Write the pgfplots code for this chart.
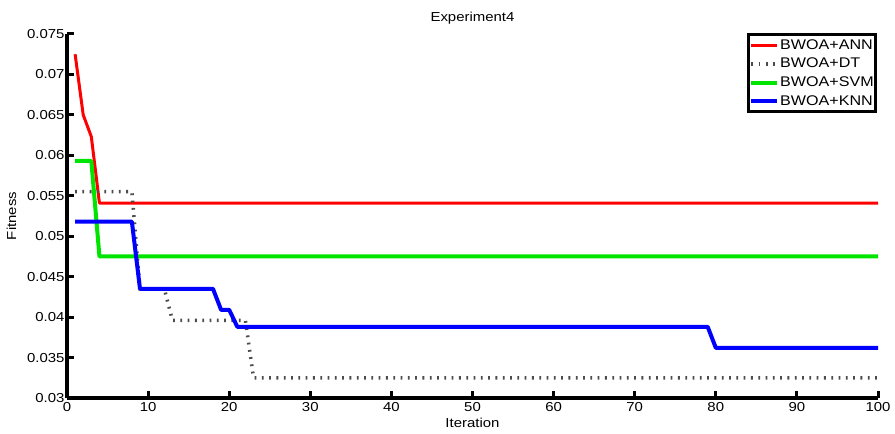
\documentclass[border=0pt]{standalone}
\usepackage{fontspec}
\setmainfont{Liberation Sans}[FakeStretch=1.15]
\usepackage{pgfplots}
\pgfplotsset{compat=1.18}
\begin{document}
\begin{tikzpicture}[font=\fontsize{13bp}{15bp}\selectfont]
\begin{axis}[
  at={(0,0)}, anchor=south west,
  scale only axis, width=811bp, height=364bp,
  xmin=0, xmax=100, ymin=0.03, ymax=0.075,
  axis x line*=bottom, axis y line*=left,
  axis line style={line width=3.5bp, black, -},
  xtick={0,10,...,100},
  ytick={0.03,0.035,...,0.0751},
  tick align=inside,
  major tick length=7bp,
  tick style={line width=3bp, black},
  /pgf/number format/assume math mode=true,
  yticklabel style={/pgf/number format/fixed, /pgf/number format/precision=3, xshift=1bp},
  scaled y ticks=false,
  xticklabel style={yshift=-1bp},
  title={Experiment4},
  title style={yshift=0bp},
  xlabel={Iteration},
  ylabel={Fitness},
  xlabel style={yshift=0bp},
  ylabel style={yshift=4bp},
  legend style={at={(0.999,1.003)}, anchor=north east, draw=black, line width=3bp,
    font=\fontsize{14bp}{15bp}\selectfont, inner xsep=1bp, inner ysep=3bp, row sep=3.5bp,
    legend cell align=left, nodes={inner xsep=1bp}},
  legend image code/.code={\draw[#1] (0bp,0bp) -- (26bp,0bp);},
]
\addplot[red, line width=3bp, line join=round] coordinates {
(1,0.0725) (2,0.065) (3,0.0623) (4,0.0541) (100,0.0541)};
\addlegendentry{BWOA+ANN}
\addplot[black!70, line width=3.5bp, dash pattern=on 1.8bp off 5.5bp] coordinates {
(1,0.0555) (8,0.0555) (9,0.0435) (12,0.0435) (13,0.0396) (22,0.0396) (23,0.0325) (100,0.0325)};
\addlegendentry{BWOA+DT}
\addplot[green!90!black, line width=4bp, line join=round] coordinates {
(1,0.0593) (3,0.0593) (4,0.0475) (100,0.0475)};
\addlegendentry{BWOA+SVM}
\addplot[blue, line width=4bp, line join=round] coordinates {
(1,0.0518) (8,0.0518) (9,0.0435) (18,0.0435) (19,0.0409) (20,0.0409) (21,0.0388) (79,0.0388) (80,0.0362) (100,0.0362)};
\addlegendentry{BWOA+KNN}
\end{axis}
\pgfresetboundingbox
\path[use as bounding box] (-67bp,-36bp) rectangle (828bp,398bp);
\end{tikzpicture}
\end{document}
